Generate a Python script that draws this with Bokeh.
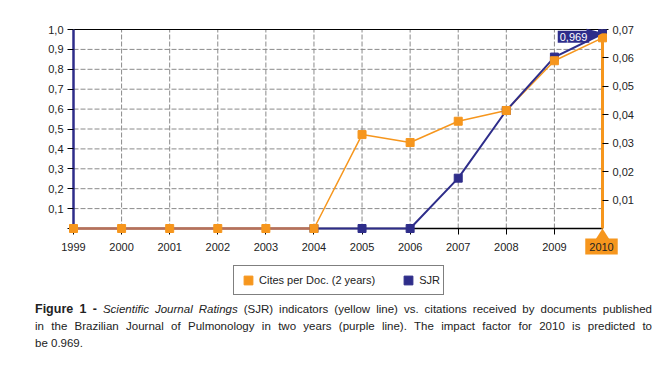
import math
from bokeh.plotting import figure
from bokeh.models import (Range1d, LinearAxis, FixedTicker, CustomJSTickFormatter,
                          Legend, LegendItem, Label, PolyAnnotation, Div, ColumnDataSource)
from bokeh.layouts import column
from bokeh.embed import file_html
from bokeh.resources import INLINE

# ---------------- data ----------------
years = [1999, 2000, 2001, 2002, 2003, 2004, 2005, 2006, 2007, 2008, 2009, 2010]
cites = [0.0, 0.0, 0.0, 0.0, 0.0, 0.0, 0.472, 0.432, 0.539, 0.593, 0.843, 0.958]
sjr = [math.nan, math.nan, math.nan, math.nan, math.nan, 0.0, 0.0, 0.0,
       0.0177, 0.0415, 0.0603, 0.0685]
left_ticks = [0.0, 0.1, 0.2, 0.3, 0.4, 0.5, 0.6, 0.7, 0.8, 0.9, 1.0]
right_ticks = [0.01, 0.02, 0.03, 0.04, 0.05, 0.06, 0.07]
series_labels = ["Cites per Doc. (2 years)", "SJR"]
impact_2010 = 0.969
highlight_year = 2010

# ---------------- layout (pixels) ----------------
W, H = 663, 300
PX0, PX1 = 73, 602      # plot area left / right
PY_TOP, PY_BOT = 29, 228  # plot area top / bottom (from top)

ORANGE = "#f6961d"
BLUE = "#2e2d8a"
BROWN = "#b5705e"
GRID = "#8a8a8a"
FONT = "Liberation Sans"
TXT = "#222222"

xmin, xmax = years[0], years[-1]
ymin, ymax = left_ticks[0], left_ticks[-1]
rmax = right_ticks[-1]
ppx = (PX1 - PX0) / (xmax - xmin)
ppy = (PY_BOT - PY_TOP) / (ymax - ymin)
x_start = xmin - PX0 / ppx
x_end = xmax + (W - PX1) / ppx
y_start = ymin - (H - PY_BOT) / ppy
y_end = ymax + PY_TOP / ppy
scale_r = rmax / (ymax - ymin)

p = figure(width=W, height=H, min_border=0,
           x_range=Range1d(x_start, x_end), y_range=Range1d(y_start, y_end),
           output_backend="svg", toolbar_location=None)
p.extra_y_ranges = {"sjr": Range1d(y_start * scale_r, y_end * scale_r)}
p.outline_line_color = None
p.xgrid.visible = False
p.ygrid.visible = False
p.background_fill_color = "white"
p.border_fill_color = "white"


def style(ax):
    ax.major_tick_in = 0
    ax.major_tick_out = 6
    ax.major_tick_line_color = "black"
    ax.minor_tick_line_color = None
    ax.major_label_text_font = FONT
    ax.major_label_text_font_size = "11px"
    ax.major_label_text_color = TXT


# x axis at y = 0
xa = p.xaxis[0]
style(xa)
xa.fixed_location = ymin
xa.bounds = (xmin, xmax)
xa.ticker = FixedTicker(ticks=years)
xa.major_label_overrides = {highlight_year: ""}
xa.axis_line_color = "black"
xa.axis_line_width = 1.5
xa.major_label_standoff = 8

# left axis at 1999
ya = p.yaxis[0]
style(ya)
ya.fixed_location = xmin
ya.bounds = (ymin, ymax)
ya.ticker = FixedTicker(ticks=left_ticks)
ya.formatter = CustomJSTickFormatter(code="return tick < 1e-9 ? '' : tick.toFixed(1).replace('.', ',')")
ya.axis_line_color = BLUE
ya.axis_line_width = 2.5
ya.major_label_standoff = 4

# right axis at 2010
ra = LinearAxis(y_range_name="sjr", fixed_location=xmax, bounds=(0, rmax),
                ticker=FixedTicker(ticks=right_ticks),
                formatter=CustomJSTickFormatter(code="return tick.toFixed(2).replace('.', ',')"))
style(ra)
ra.axis_line_color = ORANGE
ra.axis_line_width = 3
ra.major_label_standoff = 4
p.add_layout(ra, "right")

# top border line at y = 1.0
ta = LinearAxis(fixed_location=ymax, bounds=(xmin, xmax), ticker=FixedTicker(ticks=[]))
ta.axis_line_color = "black"
ta.axis_line_width = 1.2
ta.major_tick_line_color = None
ta.minor_tick_line_color = None
ta.major_label_text_font_size = "0px"
p.add_layout(ta, "above")

# dashed grid lines from tick arrays
gx = years[1:-1]
p.segment(x0=gx, y0=[ymin] * len(gx), x1=gx, y1=[ymax] * len(gx),
          line_color=GRID, line_dash="5 2", line_width=1, level="underlay")
gy = left_ticks[1:-1]
p.segment(x0=[xmin] * len(gy), y0=gy, x1=[xmax] * len(gy), y1=gy,
          line_color=GRID, line_dash="5 2", line_width=1, level="underlay")

# ---------------- series ----------------
src_c = ColumnDataSource(dict(x=years, y=cites))
src_s = ColumnDataSource(dict(x=years, y=sjr))
start_idx = next(i for i, v in enumerate(sjr) if not math.isnan(v))
src_z = ColumnDataSource(dict(x=years[:start_idx + 1], y=cites[:start_idx + 1]))

p.line("x", "y", source=src_c, line_color=ORANGE, line_width=1.5, level="overlay")
p.line("x", "y", source=src_z, line_color=BROWN, line_width=2.5, level="overlay")
p.line("x", "y", source=src_s, y_range_name="sjr", line_color=BLUE, line_width=2, level="overlay")
rs = p.scatter("x", "y", source=src_s, y_range_name="sjr", marker="square", size=8,
               fill_color=BLUE, line_color=BLUE, level="overlay")
rc = p.scatter("x", "y", source=src_c, marker="square", size=8,
               fill_color=ORANGE, line_color=ORANGE, level="overlay")

legend = Legend(items=[LegendItem(label=series_labels[0], renderers=[rc], index=0),
                       LegendItem(label=series_labels[1], renderers=[rs], index=5)],
                orientation="horizontal", location=(233, 5))
legend.glyph_width = 22
legend.glyph_height = 22
legend.label_height = 14
legend.label_standoff = -5
legend.spacing = 22
legend.padding = 3
legend.margin = 0
legend.border_line_color = "black"
legend.border_line_width = 1
legend.label_text_font = FONT
legend.label_text_font_size = "11px"
legend.label_text_color = TXT
legend.background_fill_color = "white"
p.add_layout(legend)

# ---------------- highlights ----------------
p.add_layout(PolyAnnotation(xs=[highlight_year - 7 / ppx, highlight_year + 7 / ppx, highlight_year],
                            ys=[ymin - 11 / ppy, ymin - 11 / ppy, ymin], fill_color=ORANGE, fill_alpha=1,
                            line_color=None, level="overlay"))
p.add_layout(Label(x=highlight_year, y=ymin, x_offset=-1, y_offset=-18, text=str(highlight_year),
                   text_align="center", text_baseline="middle", text_font=FONT,
                   text_font_size="11px", text_color=TXT,
                   background_fill_color=ORANGE, padding=4, level="overlay"))

p.add_layout(PolyAnnotation(xs=[highlight_year - 16 / ppx, highlight_year - 16 / ppx, highlight_year],
                            ys=[impact_2010 + 7 / ppy, impact_2010 - 7 / ppy, impact_2010 + 3 / ppy],
                            fill_color=BLUE, fill_alpha=1, line_color=None, level="overlay"))
p.add_layout(Label(x=highlight_year, y=impact_2010, x_offset=-29, y_offset=-1,
                   text=f"{impact_2010:.3f}".replace(".", ","),
                   text_align="center", text_baseline="middle", text_font=FONT,
                   text_font_size="11px", text_color="white",
                   background_fill_color=BLUE, padding=2, level="overlay"))

# ---------------- caption ----------------
line_style = f"font-family:'{FONT}';font-size:11.5px;line-height:17px;color:{TXT};"
caption = Div(width=W, text=(
    f"<div style=\"box-sizing:border-box;margin-top:-4px;padding-left:30px;width:647px;{line_style}\">"
    "<div style=\"text-align:justify;text-align-last:justify;\">"
    "<b style='font-size:12.5px'>Figure 1 -</b> <i>Scientific Journal Ratings</i> (SJR) indicators (yellow line) "
    "vs. citations received by documents published</div>"
    "<div style=\"text-align:justify;text-align-last:justify;\">in the Brazilian Journal of Pulmonology in two "
    "years (purple line). The impact factor for 2010 is predicted to</div>"
    "<div>be 0.969.</div></div>"))

layout = column(p, caption)
open("out.html", "w").write(file_html(layout, INLINE))
